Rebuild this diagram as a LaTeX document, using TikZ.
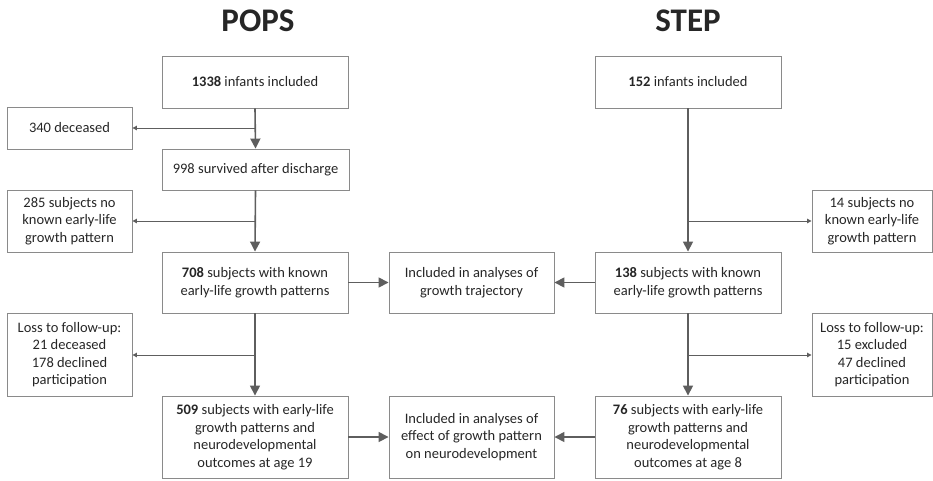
\documentclass[tikz,border=0pt]{standalone}
\usepackage{fontspec}
\setmainfont{Carlito}
\usetikzlibrary{arrows.meta}
\definecolor{boxc}{HTML}{8A8A8A}
\definecolor{arrc}{HTML}{5E5E5E}
\definecolor{txtc}{HTML}{262626}
\tikzset{
  box/.style={draw=boxc, line width=0.9pt, align=center, text=txtc, inner sep=2pt,
    font=\fontsize{14.5}{17.5}\selectfont, anchor=center},
  ttl/.style={text=txtc, font=\fontsize{33}{36}\selectfont\bfseries},
  mainarr/.style={draw=arrc, line width=1.6pt, -{Triangle[length=10pt,width=10pt]}},
  sidearr/.style={draw=arrc, line width=1pt, -{Triangle[length=4.5pt,width=4.5pt]}},
}
\begin{document}
\begin{tikzpicture}[x=1pt,y=-1pt]
\useasboundingbox (0,0) rectangle (933,480);
% titles
\node[ttl] (tpops) at (258,21) {POPS};
\node[ttl] (tstep) at (688,21) {STEP};
% POPS column
\node[box, minimum width=186pt, minimum height=52pt] (p1) at (255,82) {\textbf{1338} infants included};
\node[box, minimum width=125pt, minimum height=42pt] (pd) at (69.5,128) {340 deceased};
\node[box, minimum width=187pt, minimum height=41pt] (p2) at (255.5,169.5) {998 survived after discharge};
\node[box, minimum width=125pt, minimum height=62pt] (pn) at (69.5,221) {285 subjects no\\known early-life\\growth pattern};
\node[box, minimum width=186pt, minimum height=61pt] (p3) at (255,282.5) {\textbf{708} subjects with known\\early-life growth patterns};
\node[box, minimum width=125pt, minimum height=83pt] (pl) at (69.5,354.5) {Loss to follow-up:\\21 deceased\\178 declined\\participation};
\node[box, minimum width=186pt, minimum height=82pt] (p4) at (255,437) {\textbf{509} subjects with early-life\\growth patterns and\\neurodevelopmental\\outcomes at age 19};
% middle
\node[box, minimum width=165pt, minimum height=61pt] (m1) at (471.5,282.5) {Included in analyses of\\growth trajectory};
\node[box, minimum width=165pt, minimum height=82pt] (m2) at (471.5,437) {Included in analyses of\\effect of growth pattern\\on neurodevelopment};
% STEP column
\node[box, minimum width=186pt, minimum height=52pt] (s1) at (688,82) {\textbf{152} infants included};
\node[box, minimum width=120pt, minimum height=62pt] (sn) at (872,221) {14 subjects no\\known early-life\\growth pattern};
\node[box, minimum width=186pt, minimum height=61pt] (s3) at (688,282.5) {\textbf{138} subjects with known\\early-life growth patterns};
\node[box, minimum width=120pt, minimum height=83pt] (sl) at (872,354.5) {Loss to follow-up:\\15 excluded\\47 declined\\participation};
\node[box, minimum width=186pt, minimum height=82pt] (s4) at (688,437) {\textbf{76} subjects with early-life\\growth patterns and\\neurodevelopmental\\outcomes at age 8};
% branch coordinates
\coordinate (b1) at (255,128);
\coordinate (b2) at (255,221);
\coordinate (b3) at (255,355);
\coordinate (c2) at (688,221);
\coordinate (c3) at (688,355);
% side arrows
\draw[sidearr] (b1) -- (pd.east |- b1);
\draw[sidearr] (b2) -- (pn.east |- b2);
\draw[sidearr] (b3) -- (pl.east |- b3);
\draw[sidearr] (c2) -- (sn.west |- c2);
\draw[sidearr] (c3) -- (sl.west |- c3);
% main arrows
\draw[mainarr] (p1.south) -- (p2.north);
\draw[mainarr] (p2.south) -- (p3.north);
\draw[mainarr] (p3.south) -- (p4.north);
\draw[mainarr] (s1.south) -- (s3.north);
\draw[mainarr] (s3.south) -- (s4.north);
\draw[mainarr] (p3.east) -- (m1.west);
\draw[mainarr] (s3.west) -- (m1.east);
\draw[mainarr] (p4.east) -- (m2.west);
\draw[mainarr] (s4.west) -- (m2.east);
\end{tikzpicture}
\end{document}
